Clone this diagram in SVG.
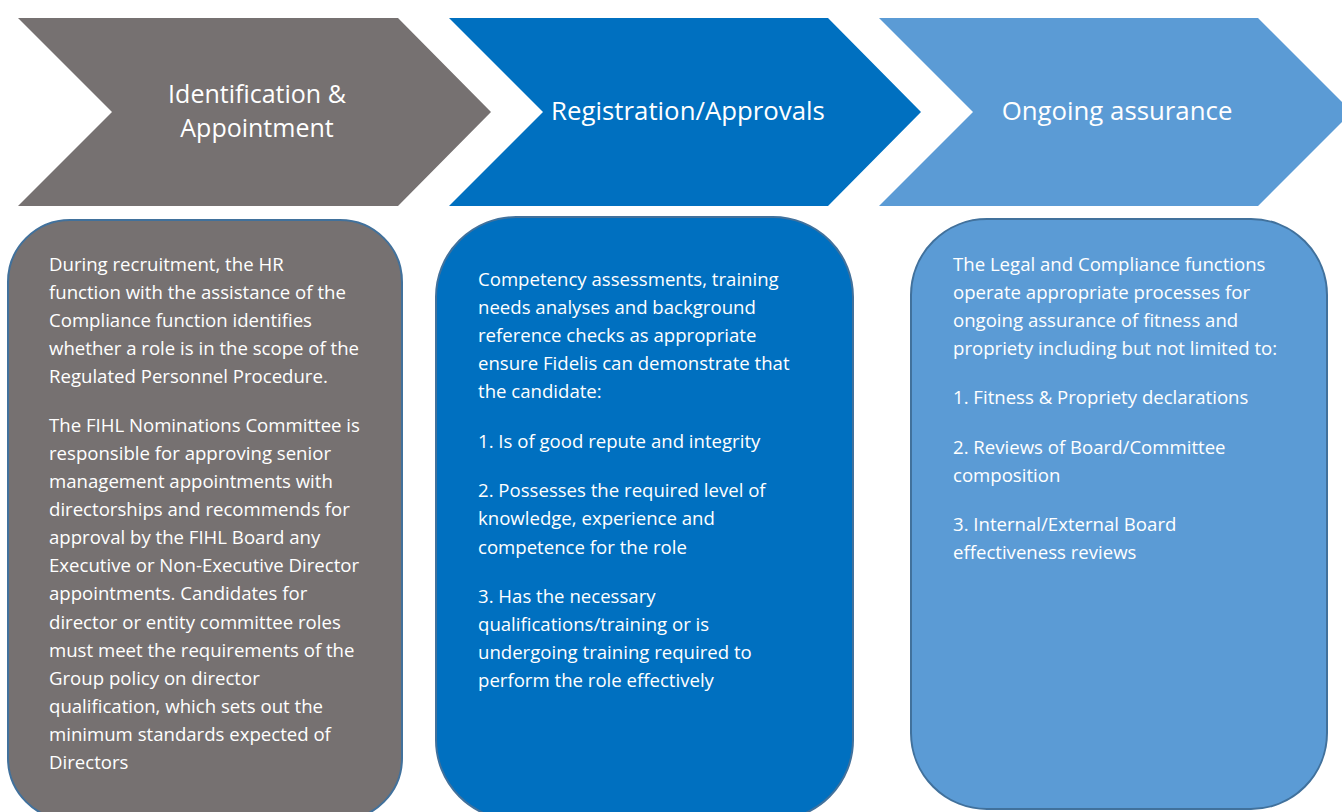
<svg xmlns="http://www.w3.org/2000/svg" width="1342" height="812" viewBox="0 0 1342 812">
<style>
.t{font-family:"Open Sans","Noto Sans","Liberation Sans",sans-serif;fill:#FFFFFF}
.title{font-size:25.8px;text-anchor:middle}
.title2{font-size:25px;text-anchor:middle}
.body{font-size:18.6px}
.box{stroke:#41719C;stroke-width:2}
</style>
<rect width="1342" height="812" fill="#FFFFFF"/>
<g id="chevron-identification">
<path d="M18,18 L398,18 L491,112 L398,206 L18,206 L112,112 Z" fill="#767171"/>
<text class="t title2" x="257" y="103">Identification &amp;</text>
<text class="t title2" x="257" y="137">Appointment</text>
</g>
<g id="chevron-registration">
<path d="M449,18 L828,18 L921,112 L828,206 L449,206 L543,112 Z" fill="#0070C0"/>
<text class="t title" x="688" y="120">Registration/Approvals</text>
</g>
<g id="chevron-ongoing">
<path d="M879,18 L1258,18 L1352,112 L1258,206 L879,206 L973,112 Z" fill="#5B9BD5"/>
<text class="t title" x="1117" y="120">Ongoing assurance</text>
</g>
<g id="connectors"></g>
<g id="box-identification">
<rect class="box" x="8" y="220" width="394" height="600" rx="62" ry="62" fill="#767171"/>
<text class="t body">
<tspan x="49" y="271">During recruitment, the HR</tspan>
<tspan x="49" y="299">function with the assistance of the</tspan>
<tspan x="49" y="327">Compliance function identifies</tspan>
<tspan x="49" y="355">whether a role is in the scope of the</tspan>
<tspan x="49" y="383">Regulated Personnel Procedure.</tspan>
<tspan x="49" y="432">The FIHL Nominations Committee is</tspan>
<tspan x="49" y="460">responsible for approving senior</tspan>
<tspan x="49" y="488">management appointments with</tspan>
<tspan x="49" y="516">directorships and recommends for</tspan>
<tspan x="49" y="544">approval by the FIHL Board any</tspan>
<tspan x="49" y="572">Executive or Non-Executive Director</tspan>
<tspan x="49" y="600">appointments. Candidates for</tspan>
<tspan x="49" y="629">director or entity committee roles</tspan>
<tspan x="49" y="657">must meet the requirements of the</tspan>
<tspan x="49" y="685">Group policy on director</tspan>
<tspan x="49" y="713">qualification, which sets out the</tspan>
<tspan x="49" y="741">minimum standards expected of</tspan>
<tspan x="49" y="769">Directors</tspan>
</text>
</g>
<g id="box-registration">
<rect class="box" x="436" y="217" width="417" height="603" rx="80" ry="80" fill="#0070C0"/>
<text class="t body">
<tspan x="478" y="286">Competency assessments, training</tspan>
<tspan x="478" y="314">needs analyses and background</tspan>
<tspan x="478" y="342">reference checks as appropriate</tspan>
<tspan x="478" y="370">ensure Fidelis can demonstrate that</tspan>
<tspan x="478" y="398">the candidate:</tspan>
<tspan x="478" y="448">1. Is of good repute and integrity</tspan>
<tspan x="478" y="497">2. Possesses the required level of</tspan>
<tspan x="478" y="525">knowledge, experience and</tspan>
<tspan x="478" y="554">competence for the role</tspan>
<tspan x="478" y="603">3. Has the necessary</tspan>
<tspan x="478" y="631">qualifications/training or is</tspan>
<tspan x="478" y="659">undergoing training required to</tspan>
<tspan x="478" y="687">perform the role effectively</tspan>
</text>
</g>
<g id="box-ongoing">
<rect class="box" x="911" y="219" width="416" height="590" rx="76" ry="76" fill="#5B9BD5"/>
<text class="t body">
<tspan x="953" y="271">The Legal and Compliance functions</tspan>
<tspan x="953" y="299">operate appropriate processes for</tspan>
<tspan x="953" y="327">ongoing assurance of fitness and</tspan>
<tspan x="953" y="355">propriety including but not limited to:</tspan>
<tspan x="953" y="404">1. Fitness &amp; Propriety declarations</tspan>
<tspan x="953" y="454">2. Reviews of Board/Committee</tspan>
<tspan x="953" y="482">composition</tspan>
<tspan x="953" y="531">3. Internal/External Board</tspan>
<tspan x="953" y="559">effectiveness reviews</tspan>
</text>
</g>
</svg>
